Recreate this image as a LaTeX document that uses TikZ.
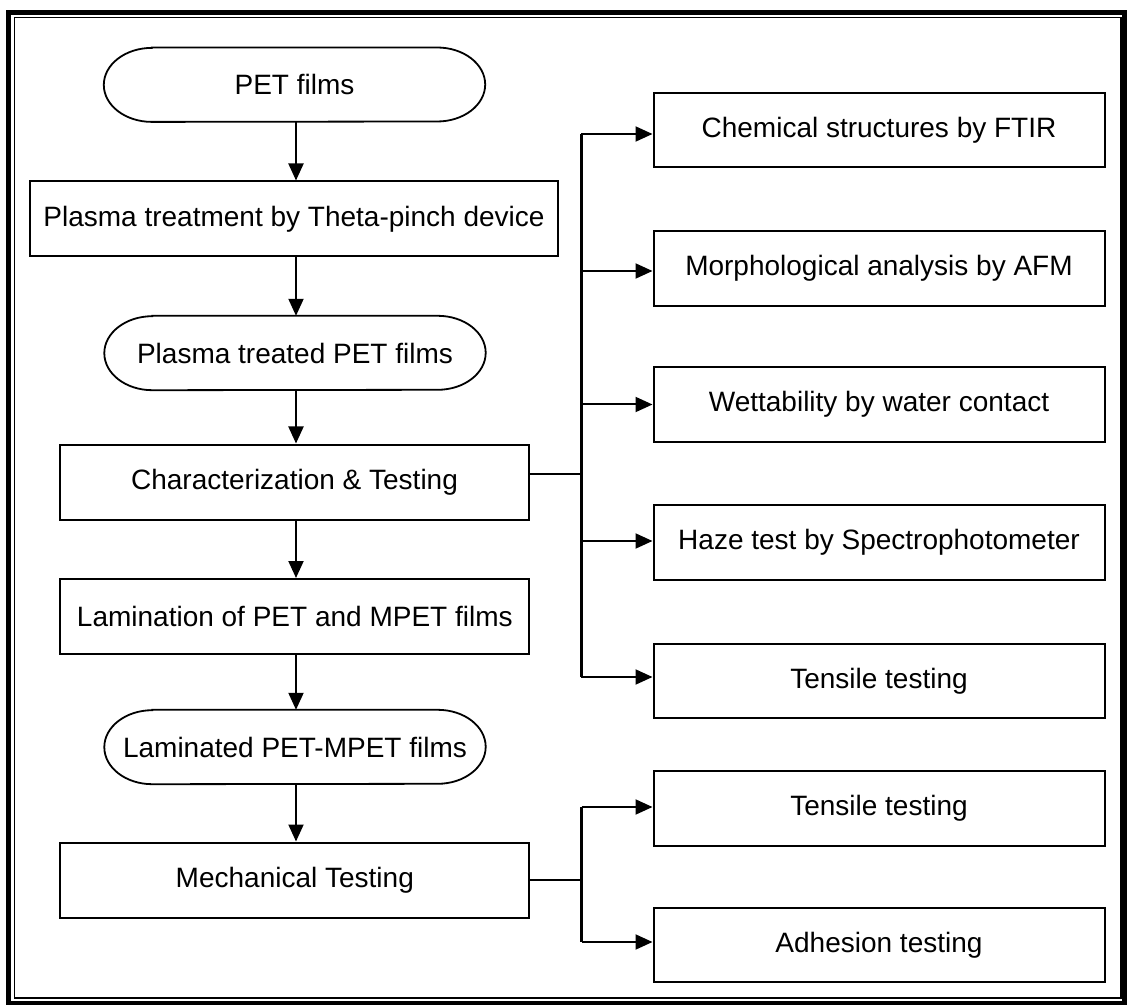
\documentclass[tikz,border=0pt]{standalone}
\usepackage{fontspec}
\setmainfont{Liberation Sans}
\usetikzlibrary{arrows.meta}

\tikzset{
  txt/.style={font=\fontsize{28pt}{32pt}\selectfont},
  procbox/.style={draw, line width=2pt, rectangle, minimum height=75pt,
    inner sep=0pt, txt},
  termbox/.style={rectangle, minimum width=381pt, minimum height=74pt,
    inner sep=0pt, txt},
  termline/.style={line width=1.8pt},
  testbox/.style={procbox, minimum width=451pt, minimum height=74.5pt},
  flow/.style={line width=2pt, -{Triangle[length=17pt,width=15pt]}},
  bus/.style={line width=3pt},
  tap/.style={line width=2pt},
}

% outline of a terminal node: straight top and bottom, half-ellipse ends
\newcommand\termoutline[1]{%
  \draw[termline] ([xshift=48pt]#1.north west) -- ([xshift=-48pt]#1.north east)
    arc[start angle=90, end angle=-90, x radius=48pt, y radius=37pt]
    -- ([xshift=48pt]#1.south west)
    arc[start angle=270, end angle=90, x radius=48pt, y radius=37pt]
    -- cycle;}

\begin{document}
\begin{tikzpicture}[x=1pt, y=-1pt]
  \useasboundingbox (0,0) rectangle (1128,1008);

  % double frame
  \draw[line width=4.5pt] (8.5,12.5) rectangle (1124.5,1003);
  \draw[line width=1.3pt] (14.5,17.5) rectangle (1121,998);

  % main column
  \node[termbox] (pet) at (294.5,84.7) {PET films};
  \node[procbox, minimum width=528pt] (plasma) at (294,219) {Plasma treatment by Theta-pinch device};
  \node[termbox] (treated) at (295,353) {Plasma treated PET films};
  \node[procbox, minimum width=469pt] (charac) at (294.5,482) {Characterization \& Testing};
  \node[procbox, minimum width=469pt] (lamin) at (294.8,616.5) {Lamination of PET and MPET films};
  \node[termbox] (laminated) at (295,747) {Laminated PET-MPET films};
  \node[procbox, minimum width=469pt] (mech) at (294.8,880) {Mechanical Testing};
  \termoutline{pet}
  \termoutline{treated}
  \termoutline{laminated}

  % characterization branch
  \node[testbox] (ftir) at (879,130) {Chemical structures by FTIR};
  \node[testbox] (afm) at (879,268.5) {Morphological analysis by AFM};
  \node[testbox] (wet) at (879,404.5) {Wettability by water contact};
  \node[testbox] (haze) at (879,542.5) {Haze test by Spectrophotometer};
  \node[testbox] (tens1) at (879,681) {Tensile testing};

  % mechanical branch
  \node[testbox] (tens2) at (879,808.5) {Tensile testing};
  \node[testbox] (adh) at (879,945) {Adhesion testing};

  % main flow arrows
  \draw[flow] (pet.south -| 296,0) -- (plasma.north -| 296,0);
  \draw[flow] (plasma.south -| 296,0) -- (treated.north -| 296,0);
  \draw[flow] (treated.south -| 296,0) -- (charac.north -| 296,0);
  \draw[flow] (charac.south -| 296,0) -- (lamin.north -| 296,0);
  \draw[flow] (lamin.south -| 296,0) -- (laminated.north -| 296,0);
  \draw[flow] (laminated.south -| 296,0) -- (mech.north -| 296,0);

  % characterization bus
  \coordinate (busA) at (581,134);
  \coordinate (busB) at (581,677);
  \coordinate (busJ) at (581,474);
  \draw[bus] (busA) -- (busB);
  \draw[tap] (charac.east |- busJ) -- (busJ);
  \draw[flow] (busA) -- (ftir.west |- busA);
  \draw[flow] (busA |- 0,271) -- (afm.west |- 0,271);
  \draw[flow] (busA |- wet.west) -- (wet.west);
  \draw[flow] (busA |- 0,541) -- (haze.west |- 0,541);
  \draw[flow] (busB) -- (tens1.west |- busB);

  % mechanical bus
  \coordinate (busC) at (581.5,807);
  \coordinate (busD) at (581.5,942);
  \draw[bus] (busC) -- (busD);
  \draw[tap] (mech.east) -- (busC |- mech.east);
  \draw[flow] (busC) -- (tens2.west |- busC);
  \draw[flow] (busD) -- (adh.west |- busD);
\end{tikzpicture}
\end{document}
